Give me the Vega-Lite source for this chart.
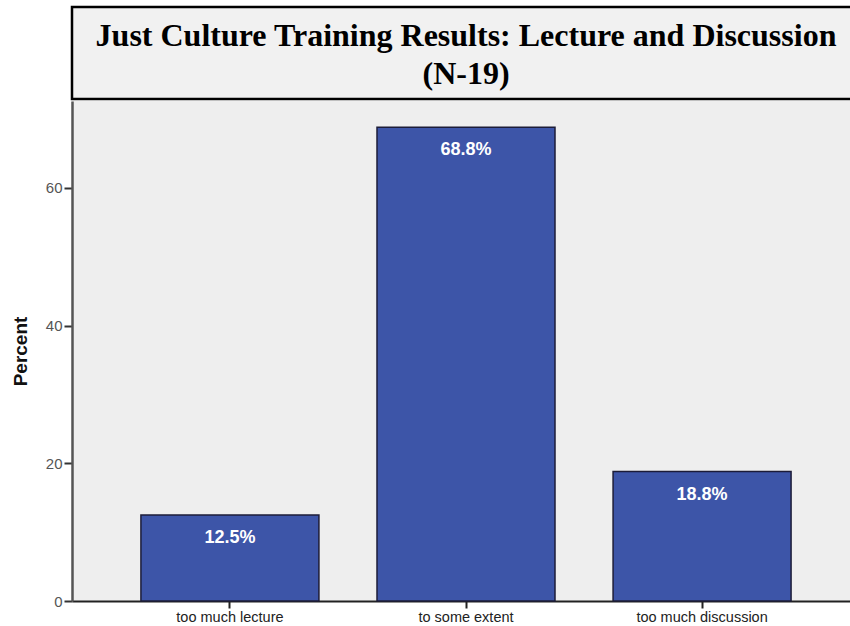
{
  "$schema": "https://vega.github.io/schema/vega-lite/v6.json",
  "padding": {"left": 11, "top": 5, "right": 0, "bottom": 0},
  "background": "white",
  "spacing": 0,
  "config": {"font": "Liberation Sans"},
  "vconcat": [
    {
      "width": 788,
      "height": 92,
      "view": {"fill": "#f1f1f1", "stroke": "#000000", "strokeWidth": 2.5},
      "data": {"values": [
        {"box": "t", "line": 1, "text": "Just Culture Training Results: Lecture and Discussion"},
        {"box": "t", "line": 2, "text": "(N-19)"}
      ]},
      "mark": {"type": "text", "font": "Liberation Serif", "fontWeight": "bold", "fontSize": 32, "color": "#000000", "baseline": "middle", "align": "center", "dy": 2, "dx": 0},
      "encoding": {
        "x": {"field": "box", "type": "nominal", "scale": {"type": "point"}, "axis": null},
        "y": {"field": "line", "type": "ordinal", "scale": {"type": "point", "padding": 0.69}, "axis": null},
        "text": {"field": "text", "type": "nominal"}
      }
    },
    {
      "width": 788,
      "height": 500,
      "view": {"fill": "#eeeeee", "stroke": null},
      "data": {"values": [
        {"category": "too much lecture", "percent": 12.5, "label": "12.5%"},
        {"category": "to some extent", "percent": 68.8, "label": "68.8%"},
        {"category": "too much discussion", "percent": 18.8, "label": "18.8%"}
      ]},
      "encoding": {
        "x": {
          "field": "category", "type": "nominal", "sort": null,
          "scale": {"paddingInner": 0.246, "paddingOuter": 0.292},
          "axis": {"title": null, "labelAngle": 0, "labelFontSize": 14.5, "labelColor": "#222222", "labelPadding": 2,
                   "domainColor": "#222222", "domainWidth": 2, "tickColor": "#222222", "tickWidth": 2, "tickSize": 7}
        },
        "y": {
          "field": "percent", "type": "quantitative",
          "scale": {"domain": [0, 72.6], "nice": false, "zero": true},
          "axis": {"title": "Percent", "values": [0, 20, 40, 60], "grid": false,
                   "labelFontSize": 15, "labelColor": "#555555", "labelPadding": 2,
                   "domainColor": "#555555", "domainWidth": 2.5, "tickColor": "#333333", "tickWidth": 2, "tickSize": 8,
                   "titleFontSize": 19, "titleFontWeight": "bold", "titleColor": "#111111", "titlePadding": 15}
        }
      },
      "layer": [
        {"mark": {"type": "bar", "fill": "#3d55a8", "stroke": "#1c1c38", "strokeWidth": 1.5}},
        {"mark": {"type": "text", "color": "#ffffff", "fontWeight": "bold", "fontSize": 18, "baseline": "middle", "dy": 23},
         "encoding": {"text": {"field": "label", "type": "nominal"}}}
      ]
    }
  ]
}
